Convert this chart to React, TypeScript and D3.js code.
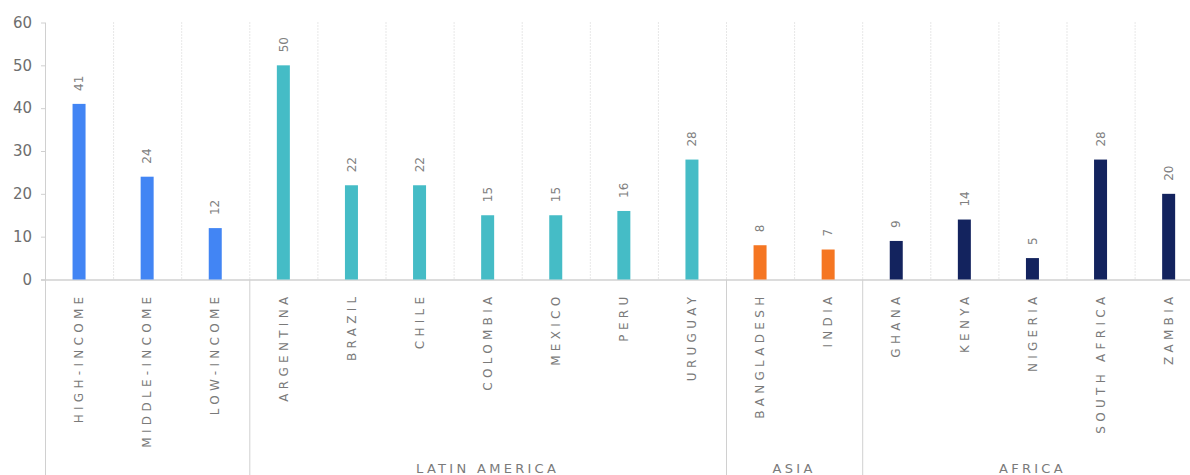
import React from "react";
import * as d3 from "d3";

const categories = [
  "HIGH-INCOME", "MIDDLE-INCOME", "LOW-INCOME",
  "ARGENTINA", "BRAZIL", "CHILE", "COLOMBIA", "MEXICO", "PERU", "URUGUAY",
  "BANGLADESH", "INDIA",
  "GHANA", "KENYA", "NIGERIA", "SOUTH AFRICA", "ZAMBIA",
];
const values = [41, 24, 12, 50, 22, 22, 15, 15, 16, 28, 8, 7, 9, 14, 5, 28, 20];
const groupOf = [
  "INCOME", "INCOME", "INCOME",
  "LATIN AMERICA", "LATIN AMERICA", "LATIN AMERICA", "LATIN AMERICA", "LATIN AMERICA", "LATIN AMERICA", "LATIN AMERICA",
  "ASIA", "ASIA",
  "AFRICA", "AFRICA", "AFRICA", "AFRICA", "AFRICA",
];
const groups = [
  { name: "INCOME", label: "" },
  { name: "LATIN AMERICA", label: "LATIN AMERICA" },
  { name: "ASIA", label: "ASIA" },
  { name: "AFRICA", label: "AFRICA" },
];
const groupColors: Record<string, string> = {
  INCOME: "#4285f4",
  "LATIN AMERICA": "#45bcc6",
  ASIA: "#f57622",
  AFRICA: "#13235e",
};
const yTicks = [0, 10, 20, 30, 40, 50, 60];

const W = 1190;
const H = 475;
const left = 45;
const step = 68.1;
const top = 22.5;
const base = 279.5;
const font = "'DejaVu Sans', 'Noto Sans', sans-serif";

export default function App() {
  const x = d3
    .scaleBand<number>()
    .domain(categories.map((_, i) => i))
    .range([left, left + step * categories.length])
    .padding(0);
  const y = d3.scaleLinear().domain([0, 60]).range([base, top]);
  const bw = 13;

  const groupSpans = groups.map((g) => {
    const idx = groupOf.map((n, i) => (n === g.name ? i : -1)).filter((i) => i >= 0);
    const x0 = x(idx[0])!;
    const x1 = x(idx[idx.length - 1])! + x.bandwidth();
    return { ...g, x0, x1 };
  });

  return (
    <svg
      width={W}
      height={H}
      style={{ position: "absolute", left: 0, top: 0, background: "#fff" }}
      fontFamily={font}
    >
      {categories.map((_, i) => {
        if (i === 0) return null;
        const xx = x(i)! + 0.5;
        return (
          <line
            key={"g" + i}
            x1={xx}
            x2={xx}
            y1={top}
            y2={base}
            stroke="#cfcfcf"
            strokeWidth={1}
            strokeDasharray="1,2"
          />
        );
      })}
      {groupSpans.map((g) => (
        <line
          key={"s" + g.name}
          x1={g.x0 + 0.5}
          x2={g.x0 + 0.5}
          y1={g.x0 === left ? top : base}
          y2={H}
          stroke="#d0d0d0"
          strokeWidth={1}
        />
      ))}
      <line x1={left - 4} x2={W} y1={base + 0.5} y2={base + 0.5} stroke="#d0d0d0" strokeWidth={1.5} />
      {yTicks.map((t) => (
        <g key={"t" + t}>
          <line x1={left - 4} x2={left} y1={y(t) + 0.5} y2={y(t) + 0.5} stroke="#d0d0d0" />
          <text x={32} y={y(t)} dy="0.35em" textAnchor="end" fontSize={15} fill="#6e6e6e">
            {t}
          </text>
        </g>
      ))}
      {values.map((v, i) => {
        const cx = x(i)! + x.bandwidth() / 2;
        return (
          <g key={"b" + i}>
            <rect
              x={cx - bw / 2}
              y={y(v)}
              width={bw}
              height={base - y(v)}
              fill={groupColors[groupOf[i]]}
            />
            <text
              transform={`translate(${cx},${y(v) - 13}) rotate(-90)`}
              dy="0.35em"
              textAnchor="start"
              fontSize={12}
              fill="#808080"
            >
              {v}
            </text>
          </g>
        );
      })}
      {categories.map((c, i) => {
        const cx = x(i)! + x.bandwidth() / 2;
        return (
          <text
            key={"c" + i}
            transform={`translate(${cx},${base + 13}) rotate(-90)`}
            dy="0.35em"
            textAnchor="end"
            fontSize={12}
            letterSpacing={4.3}
            fill="#7a7a7a"
          >
            {c}
          </text>
        );
      })}
      {groupSpans.map((g) =>
        g.label ? (
          <text
            key={"gl" + g.name}
            x={(g.x0 + g.x1) / 2}
            y={473}
            textAnchor="middle"
            fontSize={13}
            letterSpacing={3.3}
            fill="#7a7a7a"
          >
            {g.label}
          </text>
        ) : null
      )}
    </svg>
  );
}
